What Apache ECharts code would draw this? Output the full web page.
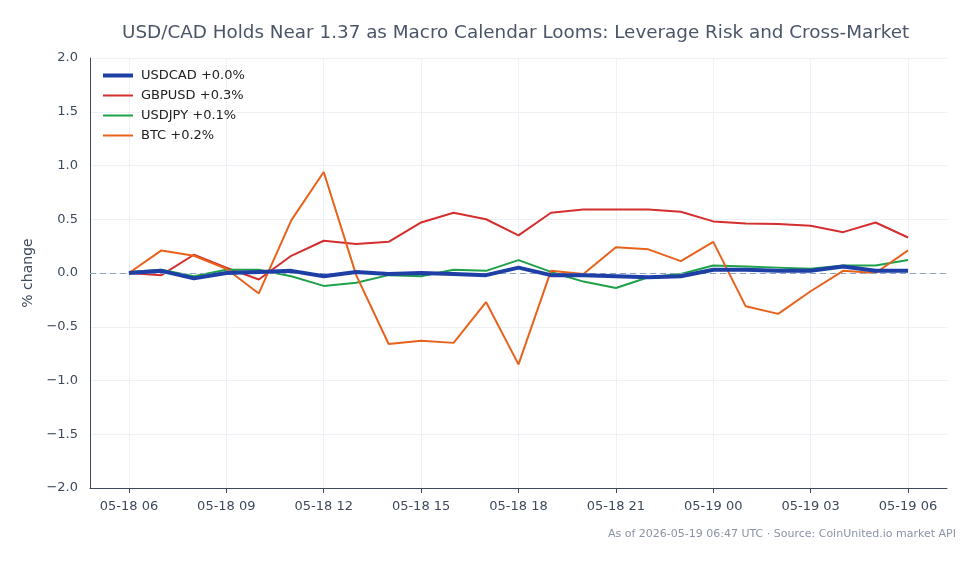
<!DOCTYPE html>
<html>
<head>
    <meta charset="utf-8">
    <script src="https://cdn.jsdelivr.net/npm/echarts@6/dist/echarts.min.js"></script>
</head>
<body style="margin:0">
    <div id="main" style="width: 979px; height: 564px"></div>
    <script type="text/javascript">
        var hours = ['05-18 06','05-18 07','05-18 08','05-18 09','05-18 10','05-18 11','05-18 12','05-18 13',
            '05-18 14','05-18 15','05-18 16','05-18 17','05-18 18','05-18 19','05-18 20','05-18 21',
            '05-18 22','05-18 23','05-19 00','05-19 01','05-19 02','05-19 03','05-19 04','05-19 05','05-19 06'];
        var tickIdx = [0, 3, 6, 9, 12, 15, 18, 21, 24];
        var usdcad = [0, 0.02, -0.05, 0.0, 0.01, 0.02, -0.03, 0.01, -0.01, 0.0, -0.01, -0.02, 0.05,
            -0.02, -0.02, -0.03, -0.04, -0.03, 0.03, 0.03, 0.02, 0.02, 0.06, 0.02, 0.02];
        var gbpusd = [0, -0.02, 0.17, 0.05, -0.06, 0.16, 0.30, 0.27, 0.29, 0.47, 0.56, 0.50, 0.35,
            0.56, 0.59, 0.59, 0.59, 0.57, 0.48, 0.46, 0.455, 0.44, 0.38, 0.47, 0.33];
        var usdjpy = [0.01, 0.03, -0.03, 0.03, 0.03, -0.03, -0.12, -0.09, -0.02, -0.03, 0.03, 0.02, 0.12,
            0.01, -0.08, -0.14, -0.04, -0.01, 0.07, 0.06, 0.05, 0.04, 0.07, 0.07, 0.12];
        var btc = [0, 0.21, 0.16, 0.04, -0.19, 0.49, 0.94, -0.02, -0.66, -0.63, -0.65, -0.27, -0.85,
            0.02, -0.01, 0.24, 0.22, 0.11, 0.29, -0.31, -0.38, -0.17, 0.02, 0.0, 0.21];

        function pairs(arr) {
            var out = [];
            for (var i = 0; i < arr.length; i++) out.push([i, arr[i]]);
            return out;
        }

        var myChart = echarts.init(document.getElementById('main'));
        var option = {
            backgroundColor: '#ffffff',
            textStyle: { fontFamily: 'DejaVu Sans' },
            title: {
                text: 'USD/CAD Holds Near 1.37 as Macro Calendar Looms: Leverage Risk and Cross-Market',
                left: 117,
                top: 19,
                textStyle: { fontSize: 18.35, fontWeight: 'normal', color: '#4a5568', fontFamily: 'DejaVu Sans' }
            },
            graphic: [{
                type: 'text',
                right: 23,
                top: 529,
                style: {
                    text: 'As of 2026-05-19 06:47 UTC · Source: CoinUnited.io market API',
                    fill: '#8a94a6',
                    fontSize: 11,
                    fontFamily: 'DejaVu Sans'
                }
            }],
            legend: {
                orient: 'vertical',
                left: 96,
                top: 64,
                itemWidth: 30,
                itemHeight: 10,
                itemGap: 7,
                itemStyle: { opacity: 0 },
                textStyle: { fontSize: 13, color: '#222222', padding: [0, 0, 0, 3] },
                data: [
                    { name: 'USDCAD +0.0%', lineStyle: { width: 4 } },
                    { name: 'GBPUSD +0.3%' },
                    { name: 'USDJPY +0.1%' },
                    { name: 'BTC +0.2%' }
                ]
            },
            grid: { left: 90, right: 32, top: 58, bottom: 76 },
            xAxis: {
                type: 'value',
                min: -1.2,
                max: 25.2,
                axisLine: { onZero: false, lineStyle: { color: '#3d4a5c', width: 1 } },
                axisTick: { show: true, customValues: tickIdx, lineStyle: { color: '#3d4a5c' } },
                axisLabel: {
                    customValues: tickIdx,
                    color: '#3d4a5c',
                    fontSize: 13,
                    margin: 12,
                    formatter: function (v) { return hours[Math.round(v)]; }
                },
                splitLine: { show: true, lineStyle: { color: '#edf0f4' } }
            },
            yAxis: {
                type: 'value',
                min: -2,
                max: 2,
                interval: 0.5,
                name: '% change',
                nameLocation: 'middle',
                nameGap: 50,
                nameTextStyle: { fontSize: 14, color: '#3d4a5c' },
                axisLine: { show: true, onZero: false, lineStyle: { color: '#3d4a5c' } },
                axisTick: { show: false },
                axisLabel: {
                    color: '#3d4a5c',
                    fontSize: 13,
                    margin: 12,
                    formatter: function (v) { return v.toFixed(1).replace('-', '\u2212'); }
                },
                splitLine: { lineStyle: { color: '#edf0f4' } }
            },
            series: [
                {
                    name: 'USDCAD +0.0%', type: 'line', data: pairs(usdcad), symbol: 'none', z: 5,
                    lineStyle: { width: 4, color: '#1e3fa6' }, itemStyle: { color: '#1e3fa6' },
                    markLine: {
                        silent: true, symbol: 'none', label: { show: false },
                        lineStyle: { type: [6, 4], color: '#8ea2c8', width: 1 },
                        data: [{ yAxis: 0 }]
                    }
                },
                {
                    name: 'GBPUSD +0.3%', type: 'line', data: pairs(gbpusd), symbol: 'none',
                    lineStyle: { width: 2, color: '#d42e2e' }, itemStyle: { color: '#d42e2e' }
                },
                {
                    name: 'USDJPY +0.1%', type: 'line', data: pairs(usdjpy), symbol: 'none',
                    lineStyle: { width: 2, color: '#1fa14a' }, itemStyle: { color: '#1fa14a' }
                },
                {
                    name: 'BTC +0.2%', type: 'line', data: pairs(btc), symbol: 'none',
                    lineStyle: { width: 2, color: '#e8621c' }, itemStyle: { color: '#e8621c' }
                }
            ]
        };
        myChart.setOption(option);
    </script>
</body>
</html>
